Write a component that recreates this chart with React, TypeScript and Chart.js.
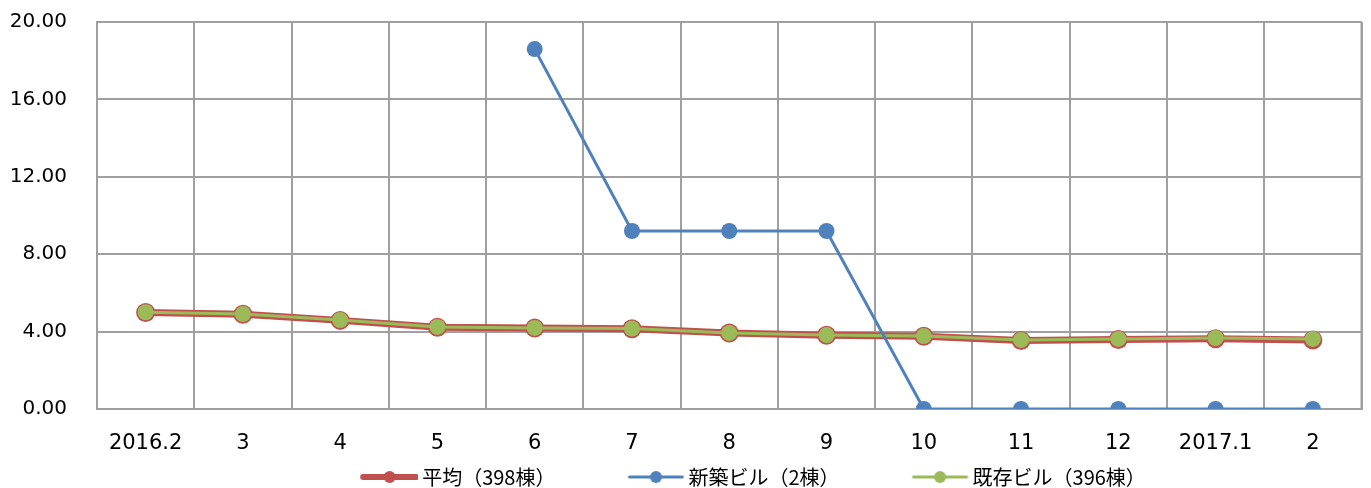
import React, { useEffect, useRef } from "react";
import { Chart, registerables } from "chart.js";

Chart.register(...registerables);

const categories = ["2016.2", "3", "4", "5", "6", "7", "8", "9", "10", "11", "12", "2017.1", "2"];
const averageValues = [4.99, 4.9, 4.58, 4.22, 4.18, 4.15, 3.93, 3.81, 3.76, 3.54, 3.59, 3.63, 3.57];
const newBuildingValues = [null, null, null, null, 18.6, 9.2, 9.2, 9.2, 0, 0, 0, 0, 0];
const existingValues = [5.0, 4.91, 4.6, 4.24, 4.19, 4.16, 3.93, 3.82, 3.77, 3.57, 3.62, 3.67, 3.62];
const yTicks = [0, 4, 8, 12, 16, 20];
const seriesNames = ["平均（398棟）", "新築ビル（2棟）", "既存ビル（396棟）"];

const RED = "#C0504D";
const BLUE = "#4F81BD";
const GREEN = "#9BBB59";
const GRID = "#A0A0A0";

const BOX_W = 119;
const SYM_W = 57;
const LEGEND_SHIFT = 36;

function legendSymbol(lineColor: string, lineWidth: number, fill: string, r: number) {
  const c = document.createElement("canvas");
  const w = BOX_W + 12;
  const h = 20;
  c.width = w;
  c.height = h;
  const ctx = c.getContext("2d")!;
  const x0 = w - SYM_W;
  ctx.strokeStyle = lineColor;
  ctx.lineWidth = lineWidth;
  ctx.lineCap = "round";
  ctx.beginPath();
  ctx.moveTo(x0 + 2, h / 2);
  ctx.lineTo(w - 2, h / 2);
  ctx.stroke();
  ctx.fillStyle = fill;
  ctx.beginPath();
  ctx.arc(x0 + SYM_W / 2, h / 2, r, 0, Math.PI * 2);
  ctx.fill();
  return c;
}

export default function App() {
  const ref = useRef<HTMLCanvasElement | null>(null);

  useEffect(() => {
    if (!ref.current) return;
    const symbols = [
      legendSymbol(RED, 6, RED, 6),
      legendSymbol(BLUE, 3, BLUE, 6),
      legendSymbol(GREEN, 3, GREEN, 6),
    ];
    const chart = new Chart(ref.current, {
      type: "line",
      data: {
        labels: categories,
        datasets: [
          {
            label: seriesNames[0],
            data: averageValues,
            borderColor: RED,
            backgroundColor: RED,
            borderWidth: 7,
            pointRadius: 9.5,
            pointBackgroundColor: RED,
            pointBorderWidth: 0,
            tension: 0,
            order: 3,
          },
          {
            label: seriesNames[1],
            data: newBuildingValues,
            borderColor: BLUE,
            backgroundColor: BLUE,
            borderWidth: 3,
            pointRadius: 8,
            pointBackgroundColor: BLUE,
            pointBorderWidth: 0,
            tension: 0,
            spanGaps: false,
            order: 1,
          },
          {
            label: seriesNames[2],
            data: existingValues,
            borderColor: GREEN,
            backgroundColor: GREEN,
            borderWidth: 3,
            pointRadius: 8,
            pointBackgroundColor: GREEN,
            pointBorderWidth: 0,
            tension: 0,
            order: 2,
          },
        ],
      },
      options: {
        responsive: false,
        animation: false,
        events: [],
        layout: { padding: { left: 0, right: 4, top: 22, bottom: 0 } },
        plugins: {
          tooltip: { enabled: false },
          legend: {
            position: "bottom",
            maxHeight: 25,
            labels: {
              usePointStyle: true,
              pointStyleWidth: BOX_W,
              padding: 4,
              color: "#000",
              font: { family: "'Noto Sans CJK JP', 'DejaVu Sans', sans-serif", size: 20 },
              generateLabels: (ch) =>
                ch.data.datasets.map((ds, i) => ({
                  text: ds.label as string,
                  fillStyle: "transparent",
                  strokeStyle: "transparent",
                  lineWidth: 0,
                  pointStyle: symbols[i],
                  hidden: false,
                  datasetIndex: i,
                  fontColor: "#000",
                })),
            },
          },
        },
        scales: {
          x: {
            offset: true,
            grid: { offset: true, color: GRID, lineWidth: 2, drawTicks: false },
            border: { color: GRID, width: 2 },
            ticks: {
              color: "#000",
              padding: 22,
              maxRotation: 0,
              autoSkip: false,
              font: { family: "'DejaVu Sans', sans-serif", size: 21 },
            },
            afterFit: (s: any) => {
              s.height = 54;
              s.paddingLeft = 0;
              s.paddingRight = 0;
            },
          },
          y: {
            min: 0,
            max: 20,
            afterBuildTicks: (s: any) => {
              s.ticks = yTicks.map((v) => ({ value: v }));
            },
            grid: { color: GRID, lineWidth: 2, drawTicks: false },
            border: { color: GRID, width: 2 },
            ticks: {
              color: "#000",
              padding: 30,
              font: { family: "'DejaVu Sans', sans-serif", size: 20 },
              callback: (v: any) => Number(v).toFixed(2),
            },
            afterFit: (s: any) => {
              s.width = 97;
              s.paddingTop = 0;
              s.paddingBottom = 0;
            },
          },
        },
      },
      plugins: [
        {
          id: "legendShift",
          afterLayout: (ch: any) => {
            if (ch.legend) {
              ch.legend.left += LEGEND_SHIFT;
              ch.legend.right += LEGEND_SHIFT;
            }
          },
        },
        {
          id: "frame",
          beforeDatasetsDraw: (ch: any) => {
            const { ctx, chartArea } = ch;
            ctx.save();
            ctx.strokeStyle = GRID;
            ctx.lineWidth = 2;
            ctx.beginPath();
            ctx.moveTo(chartArea.right, chartArea.top);
            ctx.lineTo(chartArea.right, chartArea.bottom);
            ctx.moveTo(chartArea.left, chartArea.top);
            ctx.lineTo(chartArea.right, chartArea.top);
            ctx.stroke();
            ctx.restore();
          },
        },
      ],
    });
    return () => chart.destroy();
  }, []);

  return (
    <div style={{ position: "fixed", left: 0, top: 0, width: 1371, height: 488, background: "#fff" }}>
      <canvas ref={ref} width={1371} height={488} style={{ display: "block" }} />
    </div>
  );
}
